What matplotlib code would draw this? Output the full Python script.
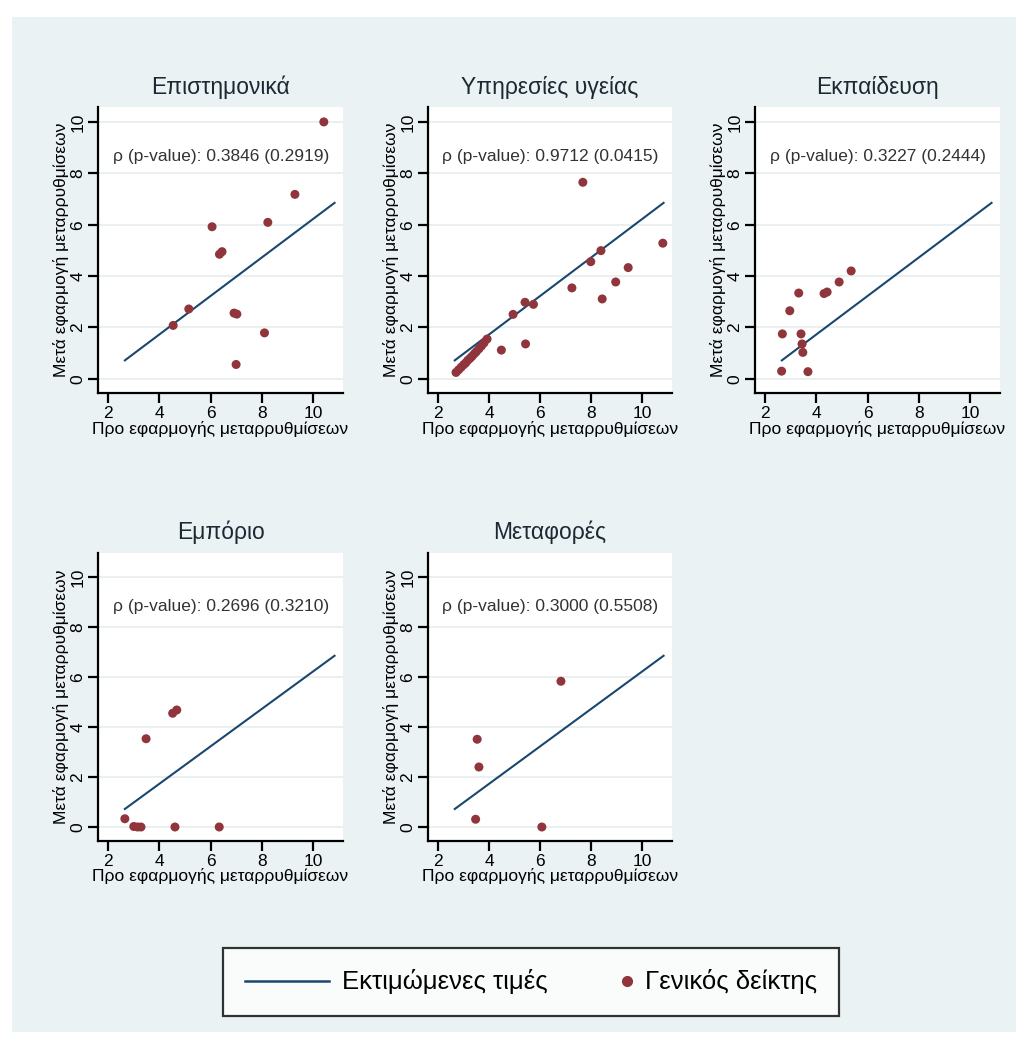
import matplotlib
matplotlib.use("Agg")
import matplotlib.pyplot as plt
from matplotlib.patches import Rectangle
from matplotlib.lines import Line2D
from matplotlib.legend_handler import HandlerLine2DCompound

plt.rcParams['font.family'] = ['Liberation Sans', 'DejaVu Sans']

# Panel titles and correlation notes
titles = ["Επιστημονικά", "Υπηρεσίες υγείας", "Εκπαίδευση", "Εμπόριο", "Μεταφορές"]
notes = [
    "ρ (p-value): 0.3846 (0.2919)",
    "ρ (p-value): 0.9712 (0.0415)",
    "ρ (p-value): 0.3227 (0.2444)",
    "ρ (p-value): 0.2696 (0.3210)",
    "ρ (p-value): 0.3000 (0.5508)",
]

# Points (before reform, after reform) per sector
x_sci = [10.43, 9.30, 8.24, 6.06, 6.35, 6.45, 5.15, 4.54, 6.92, 7.03, 8.11, 7.00]
y_sci = [10.00, 7.18, 6.09, 5.92, 4.85, 4.95, 2.72, 2.08, 2.56, 2.52, 1.79, 0.56]

x_health = [2.70, 2.80, 2.90, 3.00, 3.08, 3.16, 3.25, 3.33, 3.42, 3.50, 3.60, 3.70, 3.80, 3.92,
            7.68, 10.82, 9.46, 8.97, 8.44, 8.39, 7.99, 7.25, 5.74, 5.41, 4.94, 4.48, 5.43]
y_health = [0.25, 0.35, 0.45, 0.55, 0.62, 0.72, 0.80, 0.88, 0.98, 1.06, 1.17, 1.28, 1.40, 1.55,
            7.65, 5.28, 4.33, 3.77, 3.11, 4.99, 4.56, 3.54, 2.90, 2.98, 2.51, 1.12, 1.36]

x_edu = [5.36, 4.89, 4.30, 4.42, 3.31, 2.96, 2.67, 3.40, 3.44, 3.47, 2.64, 3.67]
y_edu = [4.20, 3.77, 3.32, 3.38, 3.34, 2.65, 1.75, 1.75, 1.36, 1.03, 0.30, 0.28]

x_trade = [4.52, 4.68, 3.48, 2.65, 3.00, 3.15, 3.28, 4.61, 6.34]
y_trade = [4.55, 4.68, 3.53, 0.33, 0.02, 0.00, 0.00, 0.00, 0.00]

x_trans = [6.82, 3.53, 3.60, 3.47, 6.07]
y_trans = [5.83, 3.51, 2.40, 0.31, 0.00]

# Fitted values line (same in every panel)
fit_x = [2.65, 10.85]
fit_y = [0.72, 6.85]

xs = [x_sci, x_health, x_edu, x_trade, x_trans]
ys = [y_sci, y_health, y_edu, y_trade, y_trans]

navy = "#1a476f"
maroon = "#90353b"
W, H = 1021, 1039


class RightMarker(HandlerLine2DCompound):
    # put the single marker at the right end of the handle box
    def get_xdata(self, legend, xdescent, ydescent, width, height, fontsize):
        xdata, _ = super().get_xdata(legend, xdescent, ydescent, width, height, fontsize)
        return xdata, [-xdescent + width - 0.2 * fontsize]


fig = plt.figure(figsize=(W / 100, H / 100), dpi=100)
fig.patch.set_facecolor("white")
fig.patches.append(Rectangle((12 / W, 1 - 1032 / H), 1004 / W, 1015 / H,
                             transform=fig.transFigure, facecolor="#eaf2f3",
                             edgecolor="none", zorder=-10))

# axes boxes in pixels: left, top, right, bottom
boxes = [(98, 107, 343, 393), (428, 107, 672, 393), (755, 107, 1000, 393),
         (98, 553, 343, 841), (428, 553, 672, 841)]
ylims = [(-0.55, 10.58)] * 3 + [(-0.56, 10.96)] * 2
note_y = [8.65] * 3 + [8.8] * 2

for i in range(5):
    l, t, r, b = boxes[i]
    ax = fig.add_axes([l / W, 1 - b / H, (r - l) / W, (b - t) / H])
    ax.set_facecolor("white")
    ax.set_xlim(1.6, 11.18)
    ax.set_ylim(*ylims[i])
    ax.set_xticks([2, 4, 6, 8, 10])
    ax.set_yticks([0, 2, 4, 6, 8, 10])
    ax.yaxis.grid(True, color="#e6ecee", linewidth=1.2)
    ax.set_axisbelow(True)
    for s in ["top", "right"]:
        ax.spines[s].set_visible(False)
    for s in ["left", "bottom"]:
        ax.spines[s].set_linewidth(1.6)
        ax.spines[s].set_color("black")
    ax.tick_params(direction="out", length=7, width=1.6, labelsize=12.5, pad=2)
    for lab in ax.get_yticklabels():
        lab.set_rotation(90)
        lab.set_va("center")
    ax.plot(fit_x, fit_y, color=navy, linewidth=1.5, zorder=2)
    ax.scatter(xs[i], ys[i], s=42, color=maroon, edgecolors="none", zorder=3)
    ax.text(6.4, note_y[i], notes[i], ha="center", va="center", fontsize=12.5,
            color="#333333")
    ax.set_title(titles[i], fontsize=16.5, color="#1c2833", pad=0, y=1.047)
    ax.set_xlabel("Προ εφαρμογής μεταρρυθμίσεων", fontsize=12.5, labelpad=0)
    ax.set_ylabel("Μετά εφαρμογή μεταρρυθμίσεων", fontsize=12.5, labelpad=1)

line_h = Line2D([0], [0], color=navy, linewidth=1.8)
dot_h = Line2D([0], [0], marker="o", linestyle="none", color=maroon, markersize=7)
leg = fig.legend([line_h, dot_h], ["Εκτιμώμενες τιμές", "Γενικός δείκτης"], loc="center",
                 bbox_to_anchor=(531 / W, 1 - 982 / H), ncol=2, fontsize=18.5,
                 handlelength=3.3, columnspacing=0.0, frameon=True, fancybox=False,
                 borderpad=0.85, handletextpad=0.5, borderaxespad=0,
                 handler_map={dot_h: RightMarker(numpoints=1)})
leg.get_frame().set_edgecolor("black")
leg.get_frame().set_linewidth(1.6)
leg.get_frame().set_facecolor("white")

fig.savefig("out.png", dpi=100)
